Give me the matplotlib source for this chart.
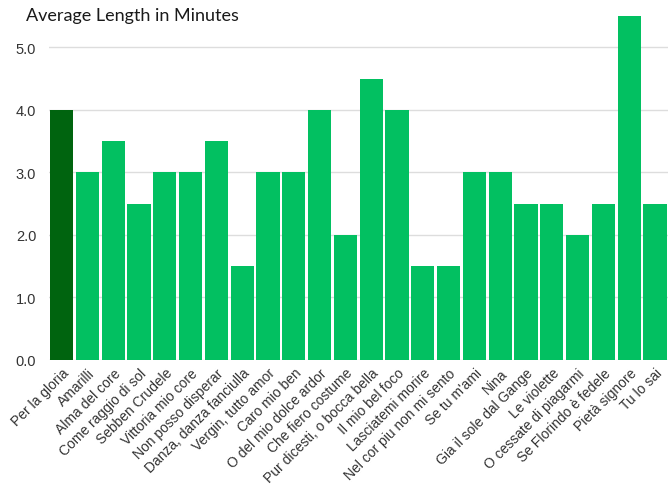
import numpy as np
import matplotlib.pyplot as plt

# song titles and average length (minutes)
songs = ["Per la gloria", "Amarilli", "Alma del core", "Come raggio di sol",
         "Sebben Crudele", "Vittoria mio core", "Non posso disperar",
         "Danza, danza fanciulla", "Vergin, tutto amor", "Caro mio ben",
         "O del mio dolce ardor", "Che fiero costume", "Pur dicesti, o bocca bella",
         "Il mio bel foco", "Lasciatemi morire", "Nel cor piu non mi sento",
         "Se tu m'ami", "Nina", "Gia il sole dal Gange", "Le violette",
         "O cessate di piagarmi", "Se Florindo è fedele", "Pietà signore", "Tu lo sai"]
minutes = [4.0, 3.0, 3.5, 2.5, 3.0, 3.0, 3.5, 1.5, 3.0, 3.0, 4.0, 2.0, 4.5,
           4.0, 1.5, 1.5, 3.0, 3.0, 2.5, 2.5, 2.0, 2.5, 5.5, 2.5]
yticks = [0.0, 1.0, 2.0, 3.0, 4.0, 5.0]

plt.rcParams["font.family"] = ["Liberation Sans", "DejaVu Sans"]

fig = plt.figure(figsize=(6.72, 4.85), dpi=100)
ax = fig.add_axes([0.0726, 0.2557, 0.9214, 0.7093])

x = np.arange(len(songs))
colors = ["#00640f"] + ["#02c061"] * (len(songs) - 1)
ax.bar(x, minutes, width=0.9, color=colors, zorder=2)

ax.set_xlim(-0.5, len(songs) - 0.5)
ax.set_ylim(0, 5.5)
ax.set_yticks(yticks)
ax.set_yticklabels([f"{v:.1f}" for v in yticks], fontsize=10.5)
ax.set_xticks(x)
ax.set_xticklabels(songs, rotation=45, ha="right", rotation_mode="anchor",
                   fontsize=10)
ax.tick_params(axis="both", length=0, labelcolor="#333333")
ax.tick_params(axis="y", pad=9)
ax.tick_params(axis="x", pad=4)
ax.grid(axis="y", color="#dddddd", linewidth=1, zorder=0)
for s in ax.spines.values():
    s.set_visible(False)

fig.text(0.038, 0.966, "Average Length in Minutes", fontsize=13, family="Lato",
         color="#1a1a1a", va="center", ha="left")

plt.savefig("out.png", dpi=100)
